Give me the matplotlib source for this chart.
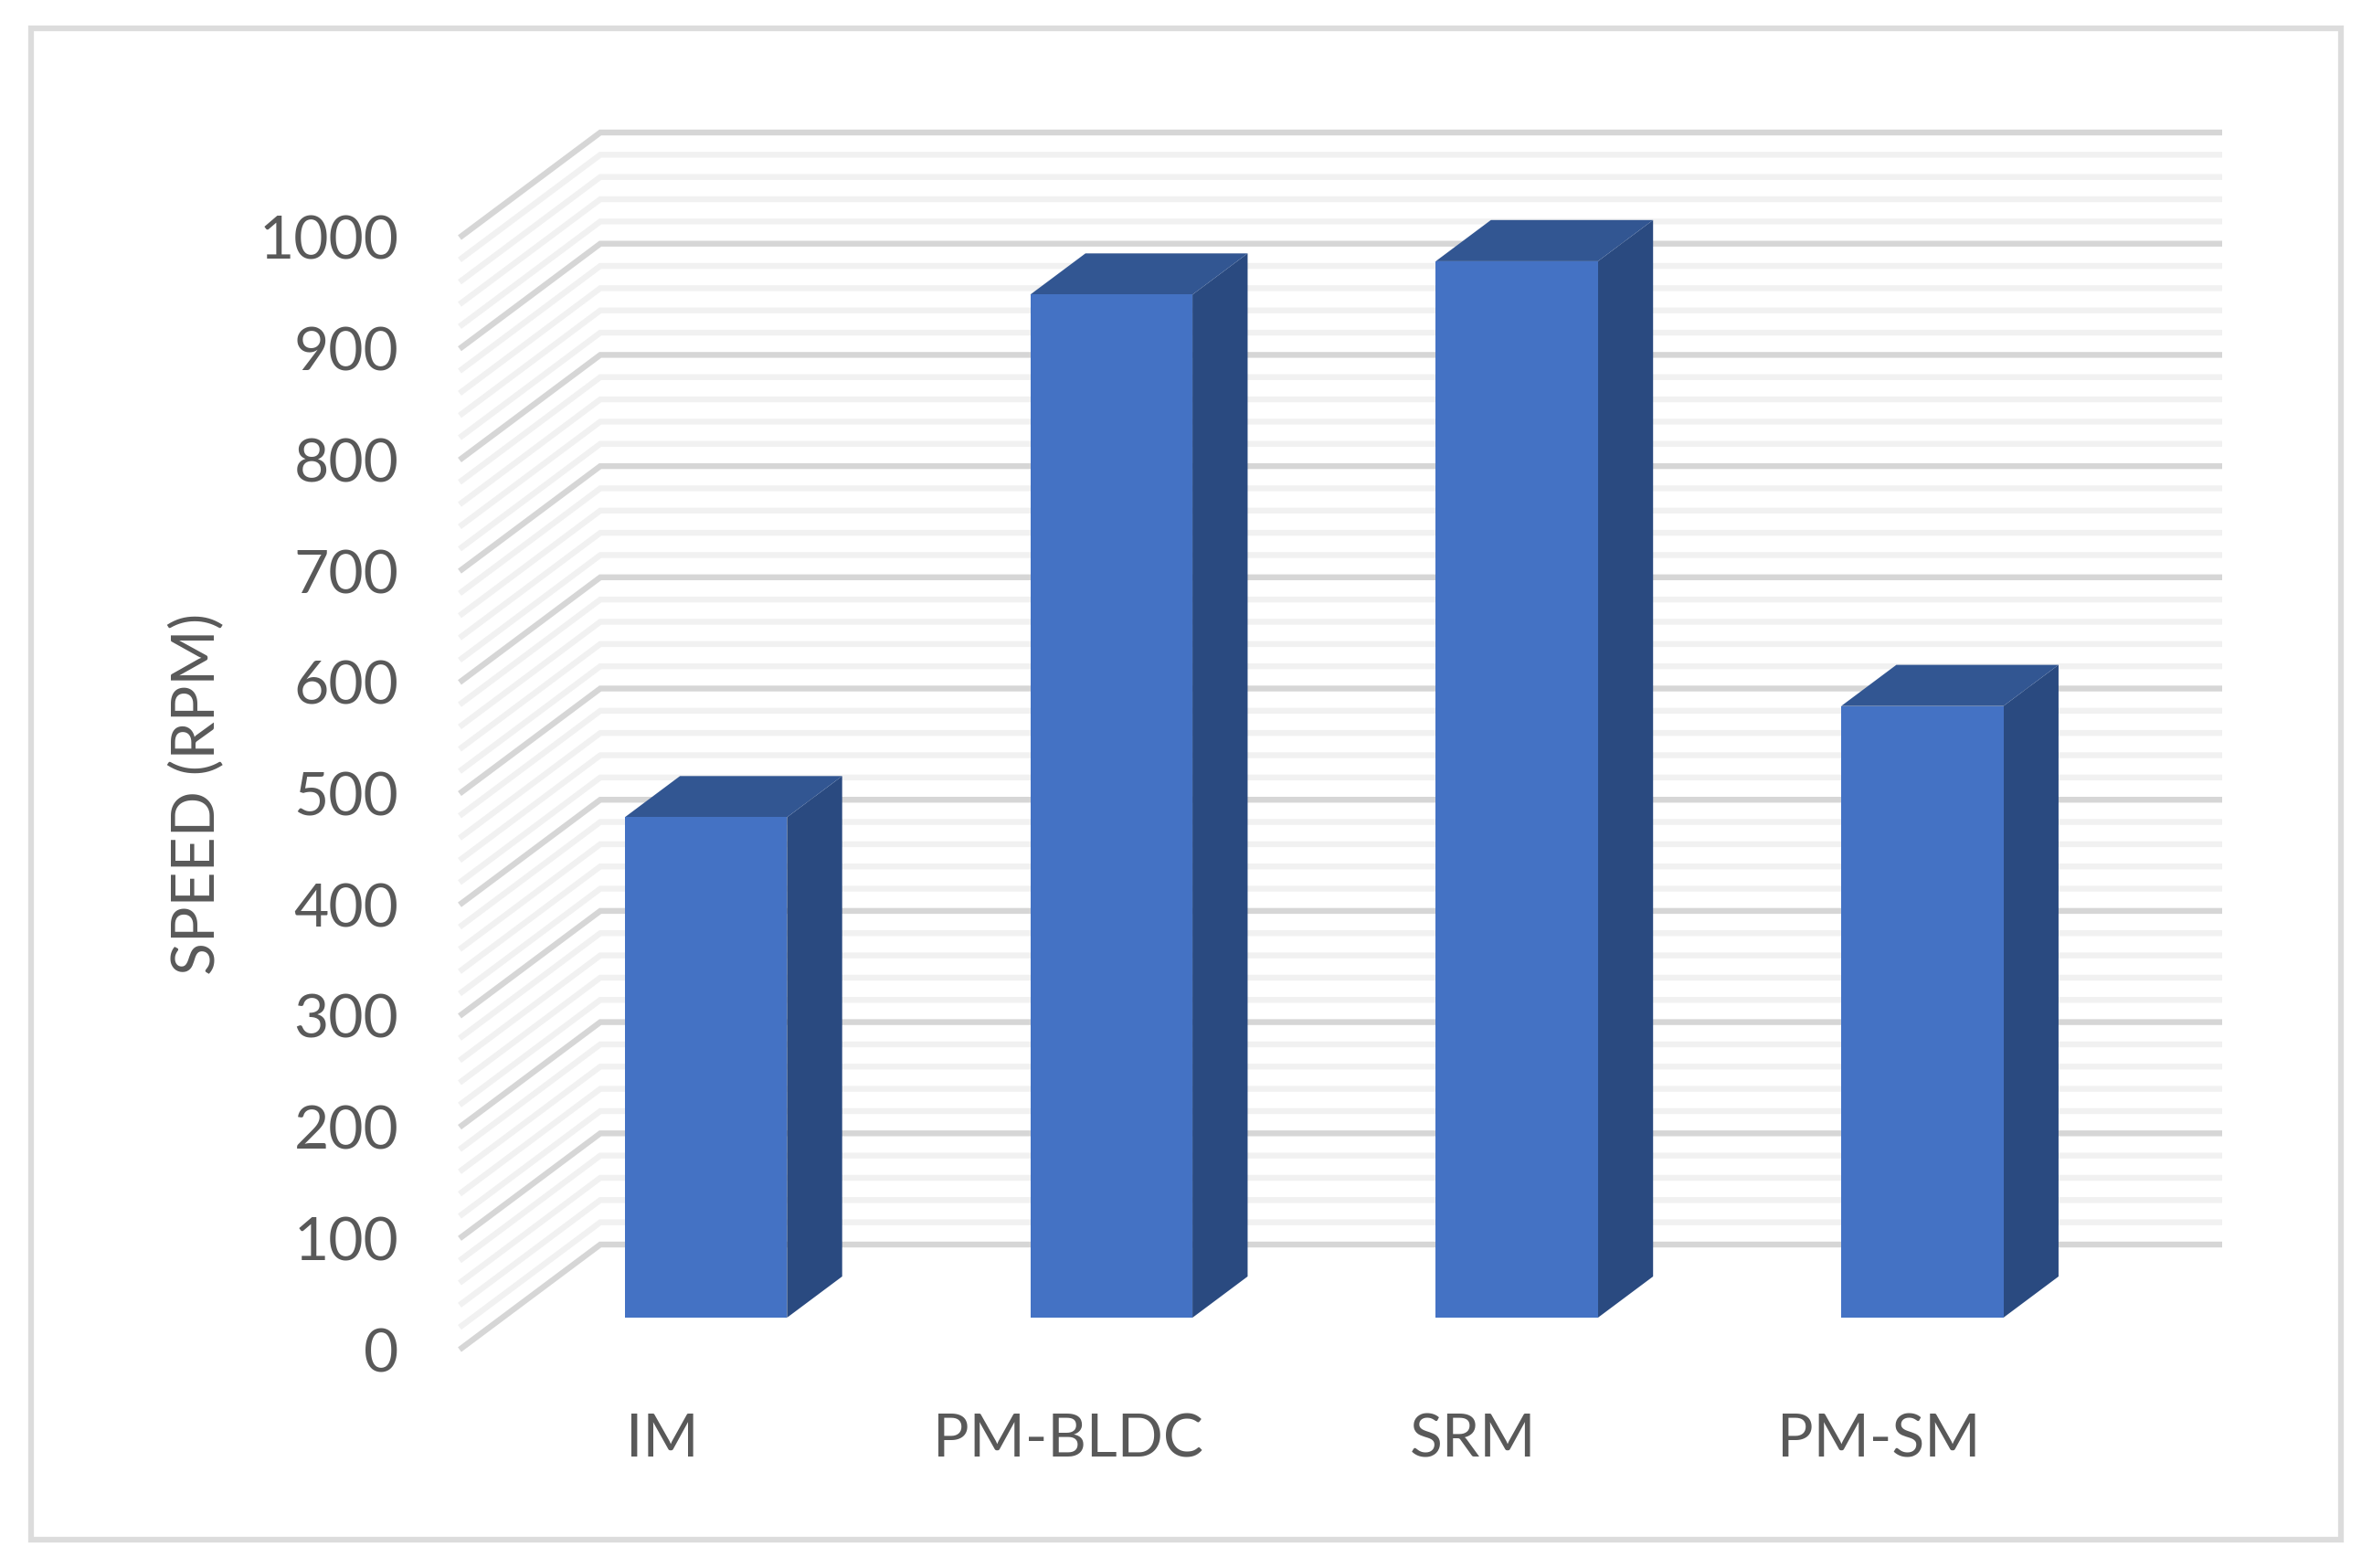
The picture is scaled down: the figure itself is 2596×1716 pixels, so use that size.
import numpy as np
import matplotlib
matplotlib.use("Agg")
import matplotlib.pyplot as plt
from matplotlib.patches import Polygon, Rectangle

# values
motors = ["IM", "PM-BLDC", "SRM", "PM-SM"]
speed = [450, 920, 950, 550]
yticks = [0, 100, 200, 300, 400, 500, 600, 700, 800, 900, 1000]

W, H = 2596, 1716
plt.rcParams["font.family"] = ["Lato", "DejaVu Sans"]

fig = plt.figure(figsize=(W / 100, H / 100), dpi=100, facecolor="white")

# axes is the front plane of the fake 3D box
left, right, bottom, top = 503, 2278, 1477, 260
ax = fig.add_axes([left / W, 1 - bottom / H, (right - left) / W, (bottom - top) / H])
ax.set_xlim(-0.5, 3.5)
ax.set_ylim(0, 1000)
ax.patch.set_alpha(0)
for s in ax.spines.values():
    s.set_visible(False)

# oblique depth of the box, in data units
depth_x = 154 / ((right - left) / 4)
depth_y = 115 / ((bottom - top) / 1000)

# walls: 20 rpm lines, each one runs along the floor side then along the back
for v in np.arange(0, 1001, 20):
    major = v % 100 == 0
    ax.plot([-0.5, -0.5 + depth_x, 3.5 + depth_x], [v, v + depth_y, v + depth_y],
            color="#d6d6d6" if major else "#f1f1f1", lw=4.6,
            solid_capstyle="butt", solid_joinstyle="miter",
            clip_on=False, zorder=2 if major else 1)

bar_w = 0.4
t_front, t_back = 0.304, 0.696
front_c, side_c, top_c = "#4472c4", "#2a4a80", "#325692"

for i, val in enumerate(speed):
    x0 = i - bar_w / 2 + t_front * depth_x + 0.002
    x1 = x0 + bar_w
    y0 = t_front * depth_y
    y1 = y0 + val
    dx = (t_back - t_front) * depth_x
    dy = (t_back - t_front) * depth_y
    ax.add_patch(Polygon([(x1, y0), (x1 + dx, y0 + dy), (x1 + dx, y1 + dy), (x1, y1)],
                         fc=side_c, ec="none", clip_on=False, zorder=3))
    ax.add_patch(Polygon([(x0, y1), (x1, y1), (x1 + dx, y1 + dy), (x0 + dx, y1 + dy)],
                         fc=top_c, ec="none", clip_on=False, zorder=3))
    ax.add_patch(Rectangle((x0, y0), bar_w, val, fc=front_c, ec="none",
                           clip_on=False, zorder=4))

ax.set_xticks(range(len(motors)))
ax.set_xticklabels(motors)
ax.set_yticks(yticks)
ax.tick_params(axis="both", length=0, labelsize=47.5, labelcolor="#595959")
ax.tick_params(axis="x", pad=50)
ax.tick_params(axis="y", pad=48)

fig.text(215 / W, 1 - 869 / H, "SPEED (RPM)", rotation=90, ha="center", va="center",
         fontsize=47.5, color="#595959")

# chart frame
fig.add_artist(Rectangle((34 / W, 1 - 1685 / H), (2562 - 34) / W, (1685 - 31) / H,
                         transform=fig.transFigure, fc="none", ec="#dcdcdc", lw=4.5))

fig.savefig("out.png", dpi=100)
